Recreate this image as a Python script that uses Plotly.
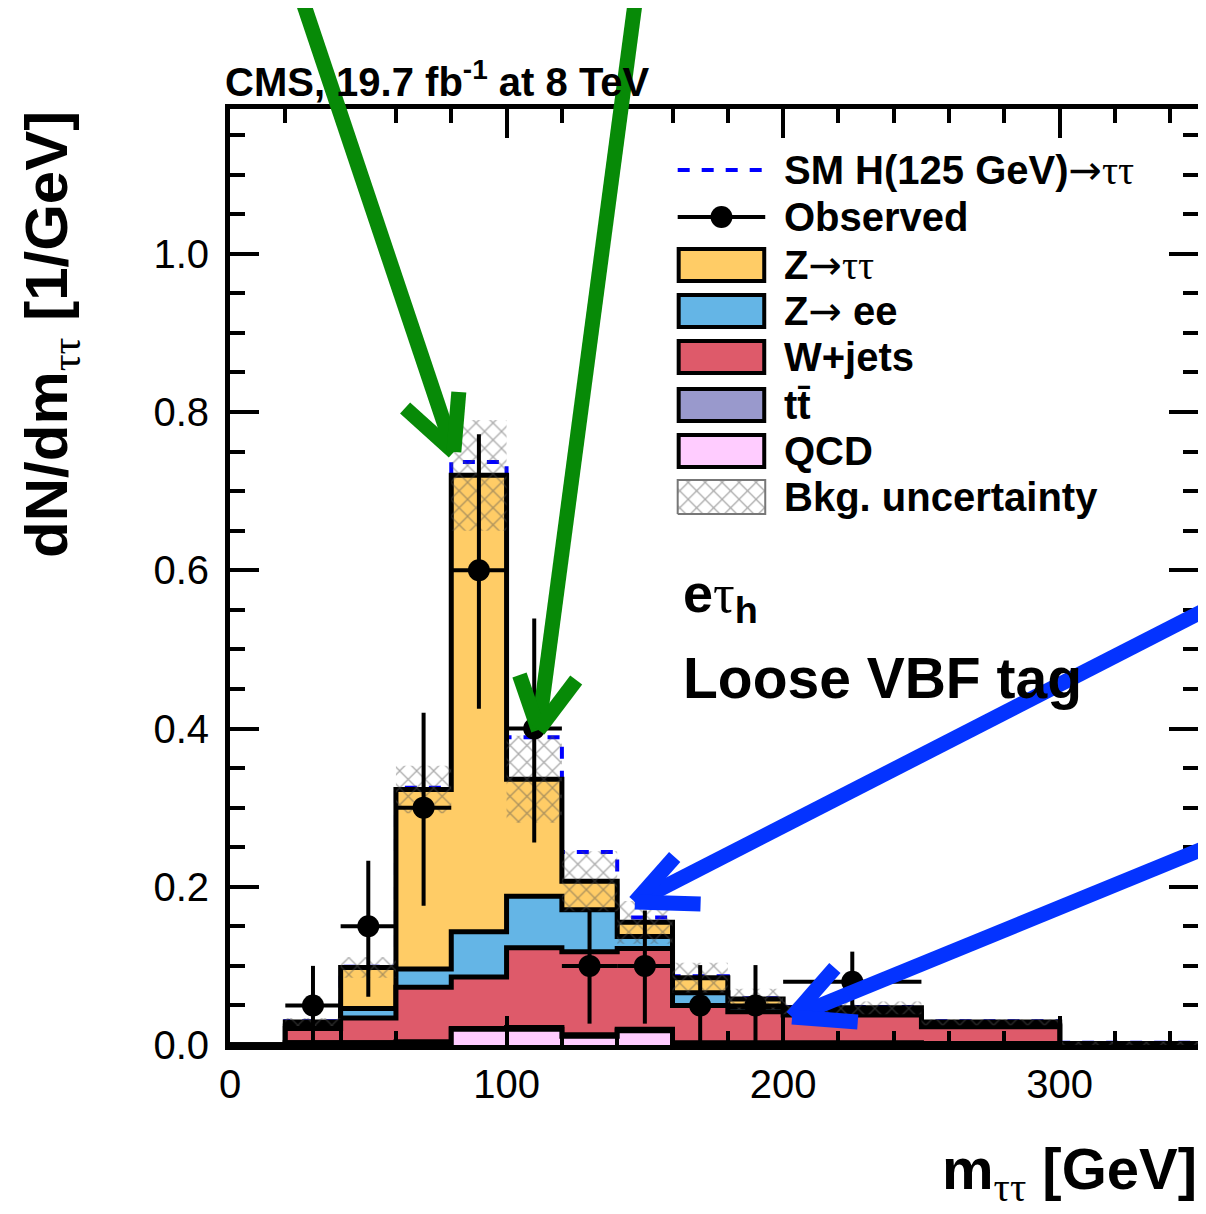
import plotly.graph_objects as go

# ---------------- data ----------------
bin_edges = [0, 20, 40, 60, 80, 100, 120, 140, 160, 180, 200, 250, 300, 350]
qcd      = [0, 0.003, 0.003, 0.003, 0.020, 0.020, 0.011, 0.018, 0.001, 0.001, 0.001, 0.001, 0.000]
ttbar    = [0, 0.000, 0.000, 0.001, 0.001, 0.002, 0.002, 0.002, 0.002, 0.002, 0.002, 0.001, 0.000]
wjets    = [0, 0.018, 0.031, 0.069, 0.065, 0.101, 0.105, 0.102, 0.047, 0.039, 0.035, 0.021, 0.001]
zee      = [0, 0.003, 0.012, 0.023, 0.057, 0.065, 0.053, 0.015, 0.016, 0.006, 0.004, 0.002, 0.000]
ztautau  = [0, 0.005, 0.052, 0.227, 0.577, 0.148, 0.036, 0.018, 0.019, 0.010, 0.005, 0.004, 0.001]
bkg_unc  = [0, 0.005, 0.013, 0.030, 0.070, 0.055, 0.038, 0.027, 0.019, 0.013, 0.008, 0.004, 0.002]
signal   = [0, 0.001, 0.001, 0.002, 0.017, 0.053, 0.037, 0.006, 0.002, 0.001, 0.001, 0.001, 0.001]

obs_lo_edge = [20, 40, 60, 80, 100, 120, 140, 160, 180, 200]
obs_hi_edge = [40, 60, 80, 100, 120, 140, 160, 180, 200, 250]
observed    = [0.05, 0.15, 0.30, 0.60, 0.40, 0.10, 0.10, 0.05, 0.05, 0.08]
obs_upper   = [0.100, 0.233, 0.420, 0.772, 0.539, 0.170, 0.170, 0.101, 0.101, 0.118]
obs_lower   = [0.005, 0.061, 0.176, 0.425, 0.256, 0.027, 0.027, 0.005, 0.005, 0.045]

x_ticks = [0, 100, 200, 300]
y_ticks = [0.0, 0.2, 0.4, 0.6, 0.8, 1.0]

# ---------------- styles ----------------
C_ZTT, C_ZEE, C_W, C_TT, C_QCD = "#FFCC66", "#64B5E6", "#DE5A6A", "#9999CC", "#FFCCFF"
FONT = "Liberation Sans, Arial, Helvetica, sans-serif"
SER = "<span style='font-family:Liberation Serif;font-weight:normal'>"
ARR = "<span style='font-family:DejaVu Sans;font-weight:normal'>→</span>"

# the page body has an 8px margin; the figure is sized to fit the window after it
OFF = 8
W, H = 1206 - OFF, 1214 - OFF
ML, MR, MT, MB = 230 - OFF, 3, 109 - OFF, 169
PW, PH = W - ML - MR, H - MT - MB


def px(x):          # window pixel -> paper
    return (x - OFF - ML) / PW


def py(y):          # window pixel -> paper
    return (H - MB - (y - OFF)) / PH


def cum(*arrs):
    return [sum(v) for v in zip(*arrs)]


def step_y(vals):
    return list(vals) + [vals[-1]]


total = cum(qcd, ttbar, wjets, zee, ztautau)
layers = [
    (cum(qcd, ttbar, wjets, zee, ztautau), C_ZTT),
    (cum(qcd, ttbar, wjets, zee), C_ZEE),
    (cum(qcd, ttbar, wjets), C_W),
    (cum(qcd, ttbar), C_TT),
    (list(qcd), C_QCD),
]

HATCH = dict(shape="x", fgcolor="#555555", bgcolor="rgba(0,0,0,0)", size=12, solidity=0.2)

fig = go.Figure()

# signal stacked on the background (dashed)
fig.add_trace(go.Scatter(x=bin_edges, y=step_y(cum(total, signal)), mode="lines",
                         line=dict(color="#0000FF", width=4, dash="dash", shape="hv"),
                         showlegend=False, hoverinfo="skip"))

for vals, col in layers:
    fig.add_trace(go.Scatter(x=bin_edges, y=step_y(vals), mode="lines", fill="tozeroy",
                             fillcolor=col, line=dict(color="black", width=5, shape="hv"),
                             showlegend=False, hoverinfo="skip"))

# background uncertainty band (hatched)
lo = [t - e for t, e in zip(total, bkg_unc)]
hi = [t + e for t, e in zip(total, bkg_unc)]
fig.add_trace(go.Scatter(x=bin_edges, y=step_y(lo), mode="lines",
                         line=dict(width=0, shape="hv"), showlegend=False, hoverinfo="skip"))
fig.add_trace(go.Scatter(x=bin_edges, y=step_y(hi), mode="lines", fill="tonexty",
                         fillcolor="rgba(0,0,0,0)", fillpattern=HATCH,
                         line=dict(width=0, shape="hv"), showlegend=False, hoverinfo="skip"))

# observed data
centers = [(a + b) / 2 for a, b in zip(obs_lo_edge, obs_hi_edge)]
halfw = [(b - a) / 2 for a, b in zip(obs_lo_edge, obs_hi_edge)]
fig.add_trace(go.Scatter(
    x=centers, y=observed, mode="markers",
    marker=dict(color="black", size=22),
    error_x=dict(type="data", array=halfw, symmetric=True, color="black", thickness=4, width=0),
    error_y=dict(type="data", array=[u - o for u, o in zip(obs_upper, observed)],
                 arrayminus=[o - l for o, l in zip(observed, obs_lower)],
                 color="black", thickness=4, width=0),
    showlegend=False, hoverinfo="skip"))

# hatched legend box (overlay axes in paper-like units)
bx0, bx1 = px(680), px(768)
by0, by1 = py(514), py(480)
fig.add_trace(go.Scatter(x=[bx0, bx1, bx1, bx0, bx0], y=[by0, by0, by1, by1, by0],
                         xaxis="x2", yaxis="y2", mode="lines", fill="toself",
                         fillcolor="rgba(0,0,0,0)", fillpattern=HATCH,
                         line=dict(color="#777777", width=2), showlegend=False, hoverinfo="skip"))

shapes = []
annotations = []

# legend
rows = [170, 217, 265, 311, 357, 405, 451, 497]
shapes.append(dict(type="line", xref="paper", yref="paper", x0=px(680), x1=px(768),
                   y0=py(rows[0]), y1=py(rows[0]), line=dict(color="#0000FF", width=4, dash="dash")))
shapes.append(dict(type="line", xref="paper", yref="paper", x0=px(680), x1=px(768),
                   y0=py(rows[1]), y1=py(rows[1]), line=dict(color="black", width=4)))
shapes.append(dict(type="circle", xref="paper", yref="paper", x0=px(713), x1=px(735),
                   y0=py(rows[1] + 11), y1=py(rows[1] - 11), fillcolor="black",
                   line=dict(color="black", width=0)))
for r, col in zip(rows[2:7], [C_ZTT, C_ZEE, C_W, C_TT, C_QCD]):
    shapes.append(dict(type="rect", xref="paper", yref="paper", x0=px(681), x1=px(767),
                       y0=py(r + 16), y1=py(r - 16), fillcolor=col,
                       line=dict(color="black", width=4)))
leg_text = [
    "<b>SM H(125 GeV)</b>" + ARR + SER + "ττ</span>",
    "<b>Observed</b>",
    "<b>Z</b>" + ARR + SER + "ττ</span>",
    "<b>Z</b>" + ARR + "<b> ee</b>",
    "<b>W+jets</b>",
    "<b>tt\u0304</b>",
    "<b>QCD</b>",
    "<b>Bkg. uncertainty</b>",
]
for r, t in zip(rows, leg_text):
    annotations.append(dict(xref="paper", yref="paper", x=px(785), y=py(r), text=t,
                            showarrow=False, xanchor="left", yanchor="middle",
                            font=dict(family=FONT, size=40, color="black")))

# texts
annotations += [
    dict(xref="paper", yref="paper", x=px(223), y=py(79), xanchor="left", yanchor="middle",
         text="<b>CMS, 19.7 fb<sup>-1</sup> at 8 TeV</b>", showarrow=False,
         font=dict(family=FONT, size=40, color="black")),
    dict(xref="paper", yref="paper", x=px(50), y=py(334), xanchor="center", yanchor="middle",
         textangle=-90, showarrow=False,
         text="<b>dN/dm</b><sub>" + SER + "ττ</span></sub><b> [1/GeV]</b>",
         font=dict(family=FONT, size=60, color="black")),
    dict(xref="paper", yref="paper", x=px(1204), y=py(1212), xanchor="right", yanchor="bottom",
         showarrow=False,
         text="<b>m</b><sub>" + SER + "ττ</span></sub><b> [GeV]</b>",
         font=dict(family=FONT, size=58, color="black")),
    dict(xref="paper", yref="paper", x=px(683), y=py(597), xanchor="left", yanchor="middle",
         showarrow=False,
         text="<b>e</b>" + SER + "τ</span><sub><b>h</b></sub>",
         font=dict(family=FONT, size=54, color="black")),
    dict(xref="paper", yref="paper", x=px(683), y=py(678), xanchor="left", yanchor="middle",
         showarrow=False, text="<b>Loose VBF tag</b>",
         font=dict(family=FONT, size=57, color="black")),
]

# overlaid arrows (decoration)
GREEN, BLUE = "#078A07", "#0433FF"
arrows = [
    (GREEN, (304, 4), (455, 452), [(406, 408), (460, 392)]),
    (GREEN, (637, 4), (540, 730), [(521, 675), (578, 680)]),
    (BLUE, (1210, 610), (637, 902), [(677, 857), (703, 904)]),
    (BLUE, (1210, 848), (795, 1017), [(838, 968), (861, 1022)]),
]
for col, (x0, y0), (x1, y1), arms in arrows:
    shapes.append(dict(type="line", xref="paper", yref="paper", x0=px(x0), y0=py(y0),
                       x1=px(x1), y1=py(y1), line=dict(color=col, width=15)))
    for ax, ay in arms:
        shapes.append(dict(type="line", xref="paper", yref="paper", x0=px(x1), y0=py(y1),
                           x1=px(ax), y1=py(ay), line=dict(color=col, width=15)))

axis_common = dict(showline=True, linecolor="black", linewidth=5, mirror="ticks",
                   ticks="inside", tickcolor="black", tickwidth=4, ticklen=29,
                   showgrid=False, zeroline=False,
                   tickfont=dict(family=FONT, size=40, color="black"))

fig.update_layout(
    width=W, height=H,
    margin=dict(l=ML, r=MR, t=MT, b=MB, pad=0),
    paper_bgcolor="white", plot_bgcolor="white",
    showlegend=False,
    xaxis=dict(range=[0, 350], tickvals=x_ticks, ticktext=[str(v) for v in x_ticks],
               minor=dict(dtick=20, tick0=0, ticks="inside", ticklen=14, tickwidth=4,
                          tickcolor="black"),
               ticklabelstandoff=0, **axis_common),
    yaxis=dict(range=[0, 1.183], tickvals=y_ticks, ticktext=[f"{v:.1f}" for v in y_ticks],
               minor=dict(dtick=0.05, tick0=0, ticks="inside", ticklen=15, tickwidth=4,
                          tickcolor="black"),
               ticklabelstandoff=8, **axis_common),
    xaxis2=dict(overlaying="x", range=[0, 1], visible=False, anchor="y2"),
    yaxis2=dict(overlaying="y", range=[0, 1], visible=False, anchor="x2"),
    shapes=shapes, annotations=annotations,
)

fig.write_html("out.html")
